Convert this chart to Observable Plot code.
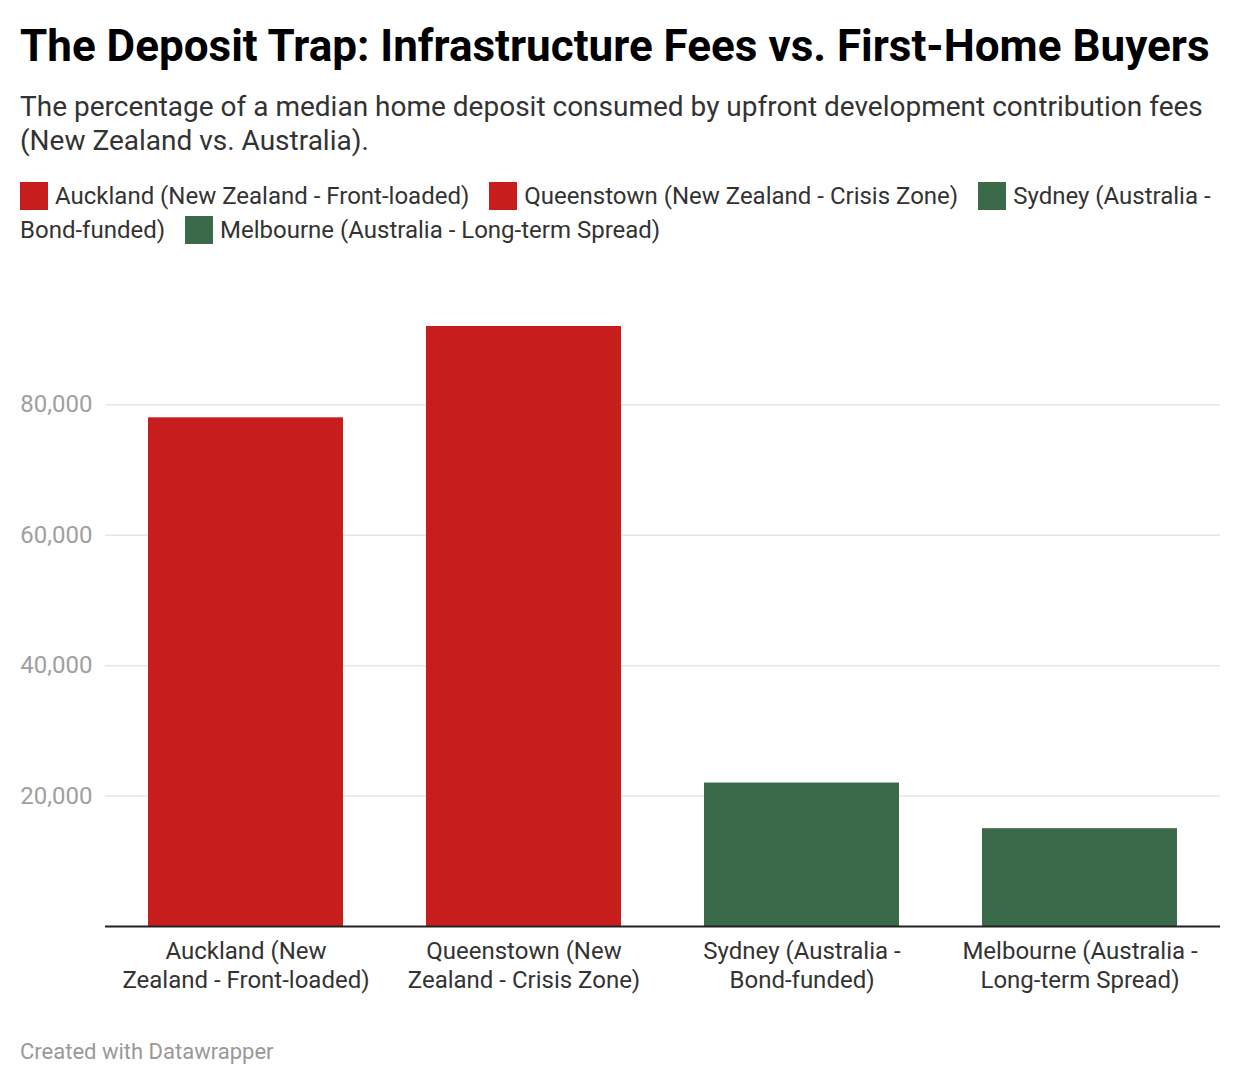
<!DOCTYPE html>
<html>
<head>
<meta charset="utf-8">
<script src="https://cdn.jsdelivr.net/npm/d3@7"></script>
<script src="https://cdn.jsdelivr.net/npm/@observablehq/plot@0.6"></script>
<style>
  html, body { margin: 0; padding: 0; background: #fff; }
  body { width: 1240px; height: 1086px; font-family: Roboto, "Noto Sans", sans-serif; color: #1d1d1d; position: relative; }
  #title { position: absolute; left: 20px; top: 20px; margin: 0; font-size: 44px; line-height: 52px; font-weight: 700; color: #000; white-space: nowrap; }
  #subtitle { position: absolute; left: 20px; top: 90px; width: 1205px; font-size: 28px; line-height: 34px; color: #333; }
  #legend { position: absolute; left: 20px; top: 179px; width: 1210px; font-size: 24px; line-height: 34px; color: #333; }
  .row { display: flex; align-items: center; height: 34px; white-space: nowrap; }
  .item { display: inline-flex; align-items: center; margin-right: 20px; }
  .sw { display: inline-block; width: 28px; height: 28px; margin-right: 7px; flex: none; }
  #chart { position: absolute; left: 0; top: 270px; }
  #footer { position: absolute; left: 20px; top: 1039px; font-size: 22px; color: #999; }
</style>
</head>
<body>
<h1 id="title">The Deposit Trap: Infrastructure Fees vs. First-Home Buyers</h1>
<div id="subtitle">The percentage of a median home deposit consumed by upfront development contribution fees (New Zealand vs. Australia).</div>
<div id="legend"></div>
<div id="chart"></div>
<div id="footer">Created with Datawrapper</div>
<script>
const categories = [
  "Auckland (New Zealand - Front-loaded)",
  "Queenstown (New Zealand - Crisis Zone)",
  "Sydney (Australia - Bond-funded)",
  "Melbourne (Australia - Long-term Spread)"
];
const tickLabels = [
  "Auckland (New\nZealand - Front-loaded)",
  "Queenstown (New\nZealand - Crisis Zone)",
  "Sydney (Australia -\nBond-funded)",
  "Melbourne (Australia -\nLong-term Spread)"
];
const values = [78000, 92000, 22000, 15000];
const colors = ["#c71e1d", "#c71e1d", "#3b6a4b", "#3b6a4b"];
const yTicks = [20000, 40000, 60000, 80000];

const data = categories.map((c, i) => ({category: c, value: values[i], label: tickLabels[i]}));

// legend: two rows, the Sydney label wraps across them as in the reference
const legend = document.getElementById("legend");
const sw = (i) => `<span class="sw" style="background:${colors[i]}"></span>`;
legend.innerHTML =
  `<div class="row">` +
    `<span class="item">${sw(0)}<span>${categories[0]}</span></span>` +
    `<span class="item">${sw(1)}<span>${categories[1]}</span></span>` +
    `<span class="item">${sw(2)}<span>Sydney (Australia -</span></span>` +
  `</div>` +
  `<div class="row">` +
    `<span class="item"><span>Bond-funded)</span></span>` +
    `<span class="item">${sw(3)}<span>${categories[3]}</span></span>` +
  `</div>`;

const plot = Plot.plot({
  width: 1220,
  height: 740,
  marginLeft: 105,
  marginRight: 0,
  marginTop: 56,
  marginBottom: 84,
  style: {fontFamily: "Roboto, sans-serif", background: "transparent"},
  x: {domain: categories, paddingInner: 0.3, paddingOuter: 0.15, axis: null},
  y: {domain: [0, 92000], axis: null},
  color: {domain: categories, range: colors},
  marks: [
    Plot.gridY(yTicks, {stroke: "#e6e6e6", strokeOpacity: 1, strokeWidth: 1.5}),
    Plot.axisY(yTicks, {tickSize: 0, tickPadding: 0, dx: -13, fontSize: 24, fill: "#a0a0a0", tickFormat: d3.format(","), label: null, textAnchor: "end"}),
    Plot.barY(data, {x: "category", y: "value", fill: "category"}),
    Plot.ruleY([0], {stroke: "#222", strokeWidth: 2}),
    Plot.text(data, {x: "category", y: () => 0, text: "label", lineAnchor: "top", dy: 13, fontSize: 24, fill: "#333", lineHeight: 1.17})
  ]
});
document.getElementById("chart").appendChild(plot);
</script>
</body>
</html>
